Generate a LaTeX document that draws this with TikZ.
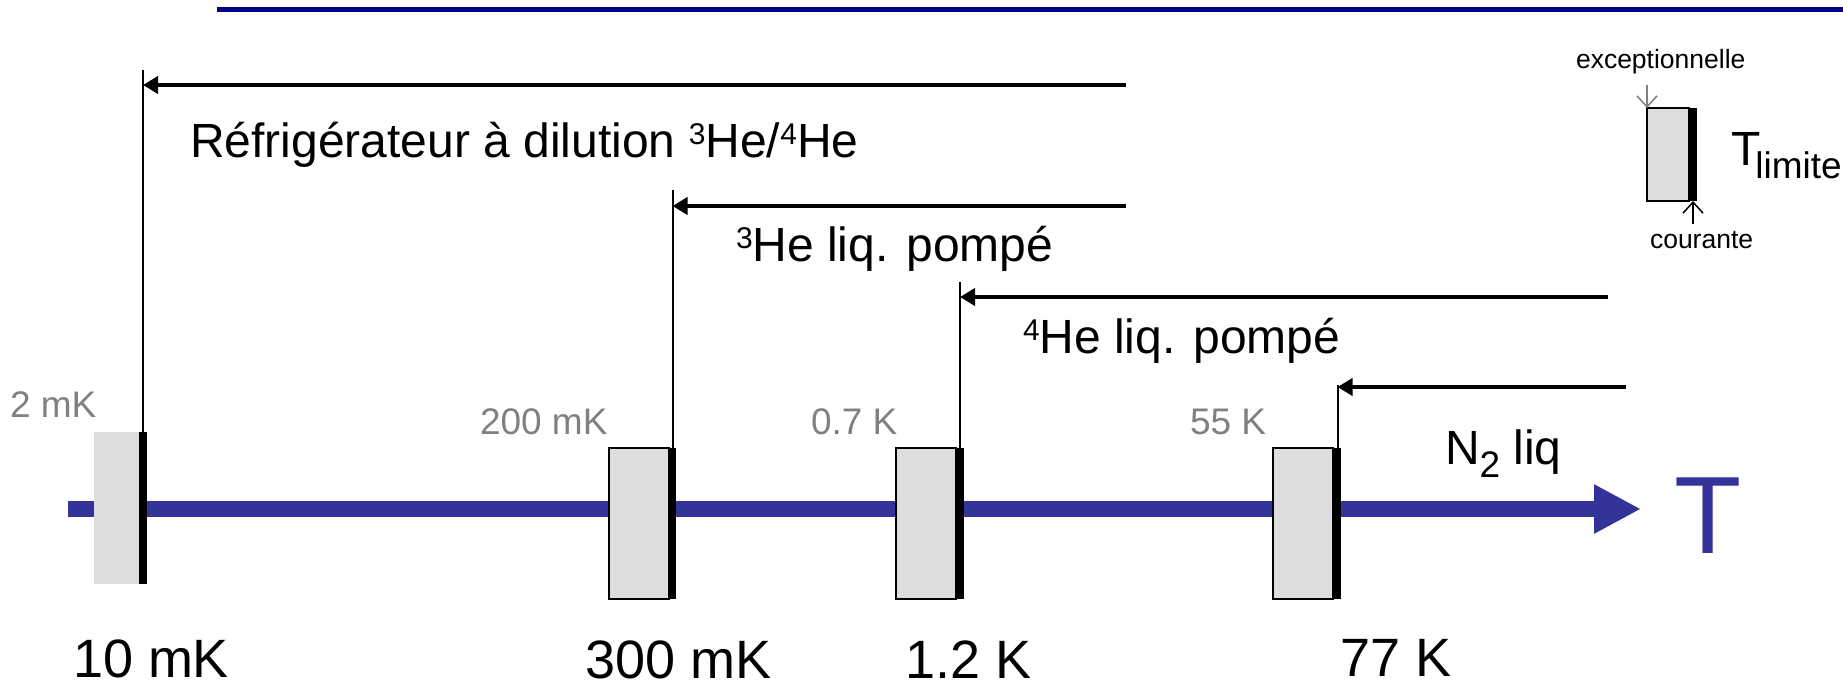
\documentclass[tikz,border=0pt]{standalone}
\usepackage{fontspec}
\setmainfont{Liberation Sans}
\usetikzlibrary{arrows.meta}
\definecolor{axisblue}{RGB}{51,51,153}
\definecolor{topnavy}{RGB}{0,0,128}
\definecolor{boxgray}{RGB}{221,221,221}
\definecolor{lblgray}{RGB}{128,128,128}
\newcommand\fmain{\fontsize{48}{50}\selectfont}
\newcommand\fgrey{\fontsize{37}{40}\selectfont}
\newcommand\fbot{\fontsize{54}{58}\selectfont}
\newcommand\fsmall{\fontsize{26.5}{28}\selectfont}
\newcommand\fbigT{\fontsize{110}{114}\selectfont}
\newcommand\supnum[1]{\raisebox{13pt}{\fontsize{30}{30}\selectfont #1}}
\newcommand\subtxt[1]{\raisebox{-13pt}{\fontsize{37}{37}\selectfont #1}}
\tikzset{
  every node/.style={inner sep=0pt, outer sep=0pt},
  gbox/.style={rectangle, fill=boxgray, draw=black, line width=2pt, minimum width=60pt, minimum height=151pt},
  gboxplain/.style={rectangle, fill=boxgray, minimum width=45pt, minimum height=152pt},
  tbar/.style={rectangle, fill=black, minimum width=7pt, minimum height=151pt},
  tick/.style={line width=2pt, draw=black},
  harrow/.style={line width=4.5pt, draw=black, -{Triangle[length=15pt,width=17pt]}},
  axisline/.style={line width=16pt, draw=axisblue, -{Triangle[length=47pt,width=46pt]}},
  lbl/.style={anchor=base west, font=\fmain},
  glbl/.style={anchor=base west, font=\fgrey, text=lblgray},
  blbl/.style={anchor=base west, font=\fbot},
  slbl/.style={anchor=base west, font=\fsmall},
  garrow/.style={line width=1.5pt, draw=lblgray, -{Straight Barb[length=11pt,width=20pt]}},
  karrow/.style={line width=1.5pt, draw=black, -{Straight Barb[length=11pt,width=20pt]}},
}
\begin{document}
\begin{tikzpicture}[x=1pt,y=-1pt]
\useasboundingbox (0,0) rectangle (1843,686);
% top rule
\coordinate (tl0) at (217,9.5);
\coordinate (tl1) at (1843,9.5);
\draw[topnavy, line width=5pt] (tl0) -- (tl1);
% axis
\coordinate (ax0) at (68,509);
\coordinate (ax1) at (1641,509);
\draw[axisline] (ax0) -- (ax1);
\node[anchor=base west, font=\fbigT, text=axisblue] (Tlab) at (1674,553) {T};
% boxes
\node[gboxplain] (b1) at (116.5,508) {};
\node[tbar, minimum width=8pt, minimum height=152pt] (b1bar) at (143,508) {};
\node[gbox] (b2) at (639,523.5) {};
\node[tbar] (b2bar) at (672.5,523.5) {};
\node[gbox] (b3) at (926,523.5) {};
\node[tbar] (b3bar) at (960,523.5) {};
\node[gbox] (b4) at (1303,523.5) {};
\node[tbar] (b4bar) at (1337.5,523.5) {};
% vertical ticks and arrows
\coordinate (v1top) at (143,70);
\coordinate (v2top) at (672.5,190);
\coordinate (v3top) at (960,282);
\coordinate (v4top) at (1337.5,385);
\draw[tick] (b1bar.north) -- (v1top);
\draw[tick] (b2bar.north) -- (v2top);
\draw[tick] (b3bar.north) -- (v3top);
\draw[tick] (b4bar.north) -- (v4top);
\coordinate (a1r) at (1126,85);
\coordinate (a2r) at (1126,206);
\coordinate (a3r) at (1608,297);
\coordinate (a4r) at (1626,387);
\draw[harrow] (a1r) -- (a1r -| b1bar);
\draw[harrow] (a2r) -- (a2r -| b2bar);
\draw[harrow] (a3r) -- (a3r -| b3bar);
\draw[harrow] (a4r) -- (a4r -| b4bar);
% labels of methods
\node[lbl] (l1) at (190,157) {Réfrigérateur à dilution \supnum{3}He/\supnum{4}He};
\node[lbl] (l2) at (736,261) {\supnum{3}He liq. pompé};
\node[lbl] (l3) at (1023,353) {\supnum{4}He liq. pompé};
\node[lbl] (l4) at (1445,464) {N\subtxt{2} liq};
% grey limits
\node[glbl] (g1) at (10,417) {2 mK};
\node[glbl] (g2) at (480,434) {200 mK};
\node[glbl] (g3) at (811,434) {0.7 K};
\node[glbl] (g4) at (1190,434) {55 K};
% bottom temperatures
\node[blbl] (t1) at (73,677) {10 mK};
\node[blbl] (t2) at (585,678) {300 mK};
\node[blbl] (t3) at (905,678) {1.2 K};
\node[blbl] (t4) at (1340,676) {77 K};
% legend
\node[rectangle, fill=boxgray, draw=black, line width=2pt, minimum width=42pt, minimum height=93pt] (lbox) at (1668,154.5) {};
\node[tbar, minimum width=8pt, minimum height=93pt] (lbar) at (1693,154.5) {};
\coordinate (gtop) at ([yshift=23pt]lbox.north west);
\draw[garrow] (gtop) -- (lbox.north west);
\coordinate (kbot) at ([yshift=-23pt]lbar.south);
\draw[karrow] (kbot) -- (lbar.south);
\node[slbl] (ex) at (1576,68) {exceptionnelle};
\node[slbl] (co) at (1650,248) {courante};
\node[anchor=base west, font=\fmain] (TL) at (1731,165) {T\kern-5pt\subtxt{limite}};
\end{tikzpicture}
\end{document}
